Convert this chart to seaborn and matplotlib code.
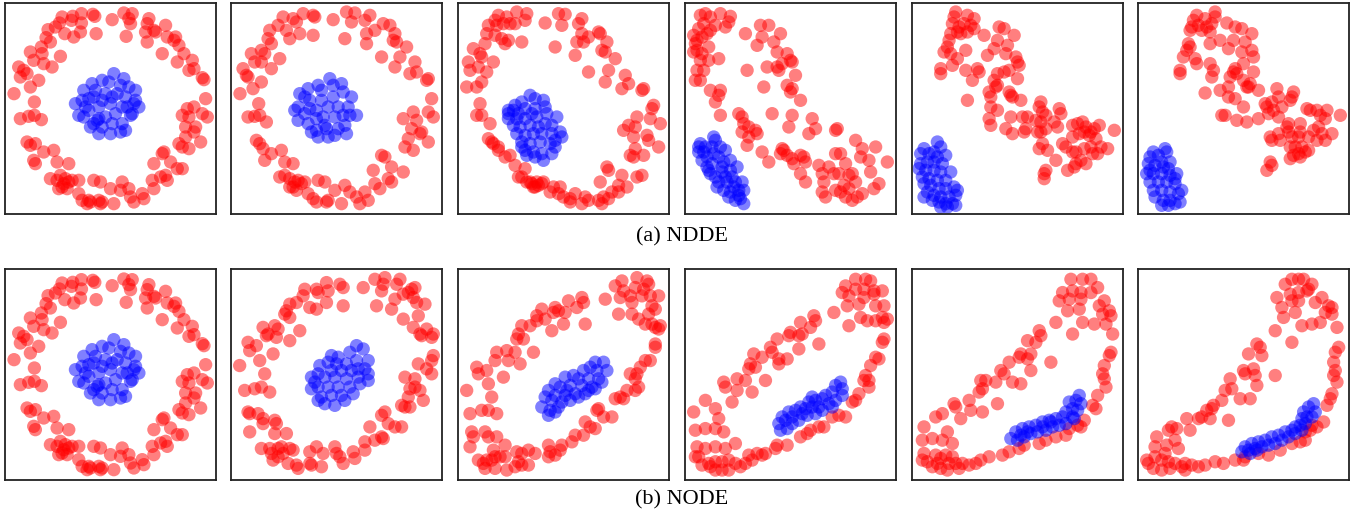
import numpy as np
import pandas as pd
import matplotlib
matplotlib.use("Agg")
import matplotlib.pyplot as plt
import seaborn as sns

P1_RED = [(180,50),(212,48),(238,40),(272,42),(278,48),(208,60),(238,68),(172,68),(160,80),(138,88),(132,112),
          (145,125),(188,100),(215,110),(235,95),(282,100),(330,58),(118,140),(85,155),(95,180),(120,160),(125,190),
          (175,168),(150,200),(50,200),(65,210),(75,220),(55,230),(110,240),(85,260),(36,280),(97,305),(55,355),
          (80,348),(97,345),(118,358),(75,425),(85,435),(100,430),(125,455),(155,450),(95,480),(100,490),(165,485),
          (200,490),(145,535),(175,525),(190,535),(210,540),(230,540),(180,560),(195,565),(230,580),(240,600),
          (260,600),(255,610),(290,600),(300,605),(275,540),(295,545),(325,565),(335,610),(360,545),(380,565),
          (355,570),(385,590),(395,605),(420,580),(425,595),(450,540),(455,565),(475,530),(490,525),(495,540),
          (485,455),(480,460),(455,490),(505,485),(525,505),(540,505),(530,430),(540,440),(560,445),(550,410),
          (575,395),(580,380),(595,425),(550,380),(540,345),(560,350),(575,320),(600,340),(615,350),(610,295),
          (555,325),(600,232),(605,238),(560,210),(575,205),(570,180),(545,160),(525,185),(530,135),(520,110),
          (515,120),(495,110),(480,160),(490,75),(460,95),(455,90),(430,95),(435,125),(440,55),(435,70),(380,55),
          (365,38),(390,40),(385,70),(372,108),(165,540),(200,545),(185,550),(170,565),(265,605),(295,610)]
P1_BLUE = [(335,220),(365,235),(300,240),(270,250),(245,270),(380,260),(400,270),(240,300),(275,290),(310,280),
           (345,280),(370,290),(395,310),(410,320),(230,345),(260,330),(290,320),(325,310),(360,320),(390,340),
           (275,370),(300,380),(330,370),(360,370),(385,345),(290,400),(325,400),(355,395),(265,380),(310,350),
           (340,340),(250,320),(220,310),(300,300),(355,255),(280,270),(320,245),(400,300),(370,390),(285,360),
           (245,350),(330,290),(290,355),(375,320),(260,295)]

P2_RED = [(165,50),(195,55),(225,40),(255,45),(260,50),(205,65),(215,100),(175,90),(150,75),(125,90),(120,115),
          (130,130),(185,115),(255,105),(315,58),(350,115),(355,35),(380,38),(370,65),(425,45),(410,60),(415,100),
          (440,90),(465,70),(485,75),(415,130),(500,100),(495,120),(535,140),(505,125),(460,170),(515,170),
          (560,185),(500,200),(545,220),(565,215),(600,235),(595,240),(610,295),(555,335),(525,355),(565,360),
          (600,335),(615,350),(550,385),(580,395),(575,400),(600,425),(540,415),(530,440),(555,450),(460,465),
          (470,470),(435,510),(490,500),(525,515),(480,535),(490,545),(440,550),(455,565),(410,575),(420,600),
          (395,610),(385,590),(350,555),(365,575),(340,610),(320,570),(300,600),(295,605),(270,540),(290,545),
          (265,605),(240,580),(255,595),(210,540),(230,545),(195,560),(185,535),(155,530),(170,525),(195,490),
          (170,485),(110,480),(130,460),(160,450),(85,420),(95,430),(105,445),(60,350),(80,348),(95,345),
          (115,365),(92,310),(36,280),(75,265),(100,245),(45,205),(55,225),(60,230),(130,205),(100,185),(80,185),
          (70,160),(100,150),(155,175),(110,160),(200,545),(185,560),(205,570),(220,550)]
P2_BLUE = [(305,235),(340,250),(270,255),(240,265),(215,280),(370,290),(345,275),(210,320),(245,300),(280,300),
           (315,290),(330,320),(360,320),(385,345),(200,330),(230,340),(265,330),(300,320),(210,360),(240,370),
           (265,390),(295,385),(330,385),(350,375),(270,410),(300,410),(320,405),(250,395),(285,350),(320,350),
           (345,345),(365,345),(230,290),(280,270),(315,255),(245,325),(290,375),(355,400),(265,355)]

P3_RED = [(130,45),(155,50),(185,35),(215,40),(210,60),(180,70),(165,70),(145,70),(120,60),(100,75),(125,75),
          (95,100),(90,130),(120,105),(140,115),(160,120),(200,125),(150,130),(55,145),(75,160),(80,170),(40,185),
          (45,210),(70,200),(95,215),(115,185),(35,260),(65,260),(80,245),(75,310),(65,345),(80,345),(105,370),
          (270,68),(300,140),(320,75),(330,42),(310,40),(380,55),(370,70),(380,100),(400,110),(430,95),(435,100),
          (365,125),(385,125),(360,165),(455,125),(440,150),(450,155),(480,175),(400,215),(460,210),(450,245),
          (510,225),(520,250),(500,265),(565,265),(560,270),(595,315),(590,325),(545,350),(585,355),(615,370),
          (520,375),(505,390),(540,380),(535,410),(575,405),(580,420),(610,440),(540,445),(525,465),(535,470),
          (565,465),(455,500),(460,510),(500,525),(545,530),(560,525),(435,545),(490,555),(515,560),(470,575),
          (490,575),(445,590),(460,595),(440,610),(430,600),(390,590),(400,600),(380,610),(360,580),(345,595),
          (345,605),(325,590),(310,580),(295,560),(315,560),(285,575),(260,550),(250,555),(240,560),(225,545),
          (215,545),(200,530),(190,530),(180,495),(165,465),(150,470),(130,450),(130,440),(115,430),(100,415),
          (110,425),(210,505),(235,560),(265,545),(230,550),(245,545)]
P3_BLUE = [(225,285),(240,295),(265,300),(200,305),(180,315),(160,330),(175,330),(210,325),(240,325),(270,320),
           (275,340),(305,350),(160,355),(185,355),(210,355),(245,350),(175,375),(195,380),(225,375),(250,380),
           (270,370),(290,375),(315,395),(320,410),(185,400),(210,405),(235,400),(260,400),(290,400),(200,425),
           (225,430),(255,425),(285,430),(300,420),(210,450),(235,455),(260,460),(290,460),(265,480),(240,470),
           (215,465),(200,440),(300,440),(160,340),(190,340),(230,340)]

P4_RED = [(55,45),(70,40),(85,50),(115,40),(145,48),(140,65),(130,80),(100,75),(85,90),(65,70),(50,85),(35,105),
          (45,120),(40,130),(60,110),(75,100),(45,150),(35,155),(60,160),(55,180),(80,140),(110,175),(80,180),
          (45,210),(65,210),(40,240),(55,240),(235,75),(260,75),(190,100),(240,110),(295,100),(225,135),(275,125),
          (285,155),(315,160),(325,180),(330,185),(300,190),(290,210),(285,200),(255,200),(195,210),(340,225),
          (245,260),(315,255),(330,265),(325,275),(355,300),(85,270),(115,270),(110,285),(100,305),(115,345),
          (170,340),(180,350),(185,370),(200,380),(180,395),(220,390),(225,400),(200,410),(195,435),(240,455),
          (260,485),(270,340),(320,380),(330,345),(390,355),(400,385),(380,400),(465,385),(460,390),(300,445),
          (305,450),(295,460),(315,465),(330,475),(335,490),(355,465),(365,470),(370,485),(355,520),(370,545),
          (410,495),(440,500),(460,460),(475,460),(455,520),(470,520),(490,490),(500,525),(510,520),(520,420),
          (540,445),(535,470),(560,480),(580,440),(565,515),(520,545),(425,545),(460,570),(420,575),(430,590),
          (475,575),(490,590),(510,600),(525,590),(540,580),(590,550),(575,565),(615,485),(500,565),(485,555),
          (420,520)]
P4_BLUE = [(95,410),(100,420),(115,440),(130,450),(145,480),(165,500),(55,430),(50,440),(65,455),(50,455),(75,470),
           (95,460),(110,470),(125,485),(60,480),(75,500),(90,490),(120,515),(145,510),(85,520),(100,530),(110,545),
           (135,545),(150,530),(160,545),(180,545),(105,560),(125,570),(145,575),(170,570),(185,570),(140,590),
           (160,600),(175,595),(185,610),(70,440),(90,440),(80,510),(120,500),(130,530),(155,560),(170,585)]

P5_RED = [(140,35),(135,50),(175,45),(195,55),(130,70),(150,80),(165,70),(185,75),(195,85),(145,95),(125,100),
          (155,100),(175,95),(120,120),(115,140),(105,155),(125,160),(170,150),(145,175),(130,195),(95,205),(95,220),
          (170,210),(205,205),(210,215),(190,240),(175,300),(225,105),(270,80),(285,85),(265,120),(295,135),
          (315,105),(255,145),(235,165),(290,160),(320,170),(325,185),(330,195),(300,210),(325,235),(285,215),
          (265,220),(255,240),(265,255),(260,260),(240,275),(245,290),(300,275),(305,285),(310,290),(335,300),
          (245,320),(265,330),(305,350),(240,355),(245,375),(290,385),(310,400),(340,350),(355,350),(350,385),
          (345,395),(395,305),(390,320),(400,335),(380,360),(395,365),(410,345),(450,325),(455,340),(435,365),
          (445,380),(385,395),(395,395),(410,385),(490,375),(505,370),(520,365),(530,380),(545,395),(555,385),
          (570,375),(525,395),(510,400),(540,405),(560,415),(490,410),(460,430),(470,440),(400,430),(415,450),
          (390,445),(490,455),(500,455),(525,445),(545,440),(575,440),(595,445),(615,390),(565,460),(550,460),
          (515,480),(530,490),(500,490),(495,500),(475,510),(440,480),(410,510),(405,520),(405,535)]
P5_BLUE = [(85,425),(95,440),(45,445),(35,460),(60,460),(75,455),(110,465),(85,470),(35,490),(55,485),(75,485),
           (100,490),(30,505),(50,510),(75,510),(95,515),(125,515),(40,530),(60,535),(85,540),(110,540),(135,560),
           (45,550),(65,555),(90,565),(110,565),(145,570),(55,575),(75,585),(95,590),(120,590),(140,585),(70,600),
           (90,605),(110,610),(130,610),(140,615),(95,620),(115,620),(45,590)]

P6_RED = [(185,45),(175,60),(240,35),(240,50),(210,55),(190,75),(230,70),(170,80),(165,90),(200,90),(225,95),
          (215,80),(160,130),(165,140),(155,150),(145,170),(180,175),(185,190),(135,210),(135,220),(225,130),
          (255,120),(275,68),(300,80),(320,85),(350,100),(295,120),(330,125),(280,145),(320,155),(350,150),
          (355,170),(325,190),(300,205),(295,215),(305,220),(355,215),(225,190),(235,210),(230,230),(285,230),
          (325,240),(345,250),(335,260),(370,270),(340,260),(255,270),(280,260),(210,278),(280,290),(300,295),
          (325,320),(260,345),(270,345),(305,360),(335,365),(370,355),(390,310),(395,320),(425,265),(475,275),
          (430,290),(470,290),(410,305),(415,330),(440,320),(465,300),(400,340),(430,350),(460,370),(495,370),
          (515,325),(525,330),(545,330),(555,345),(570,355),(575,330),(615,345),(535,390),(550,380),(560,400),
          (590,400),(570,420),(545,420),(520,410),(495,395),(455,380),(460,395),(470,410),(490,410),(405,410),
          (410,420),(430,400),(435,420),(465,440),(480,440),(500,440),(510,455),(520,450),(490,460),(475,465),
          (465,475),(495,470),(405,485),(410,495),(395,510)]
P6_BLUE = [(90,445),(95,455),(55,455),(45,470),(70,465),(105,485),(80,485),(40,490),(60,495),(100,505),(125,520),
           (35,520),(55,520),(80,520),(105,525),(45,545),(70,545),(95,545),(120,550),(140,570),(55,570),(80,570),
           (105,575),(130,580),(60,590),(85,600),(105,600),(135,605),(80,615),(100,615),(120,610),(45,510),(85,500),
           (120,535)]

P8_RED = [(185,120),(205,115),(225,95),(230,75),(245,130),(265,75),(270,85),(295,55),(300,80),(295,115),(335,60),
          (345,70),(345,125),(265,135),(175,140),(170,150),(185,160),(140,185),(150,195),(105,190),(120,210),
          (115,215),(145,220),(215,200),(185,230),(135,270),(60,235),(65,260),(85,245),(95,290),(35,305),(110,330),
          (50,380),(80,375),(100,370),(125,385),(60,445),(65,450),(90,450),(105,465),(105,480),(140,470),(145,480),
          (65,505),(140,510),(175,510),(100,555),(125,555),(130,570),(150,555),(160,550),(150,580),(185,555),
          (195,560),(180,600),(205,605),(210,615),(245,565),(265,550),(245,600),(250,605),(280,610),(285,570),
          (320,550),(325,570),(335,580),(345,600),(375,565),(380,585),(410,560),(410,535),(440,530),(460,520),
          (465,525),(425,490),(480,480),(500,490),(520,490),(460,455),(470,445),(520,425),(530,430),(545,430),
          (540,400),(545,375),(560,370),(575,380),(585,410),(530,340),(560,345),(570,300),(595,315),(610,330),
          (615,275),(610,290),(575,210),(580,215),(615,210),(610,220),(595,195),(555,190),(525,165),(570,155),
          (490,135),(500,105),(445,125),(590,120),(565,115),(555,100),(540,85),(525,90),(560,70),(550,75),(515,45),
          (505,60),(460,80),(465,60),(470,40),(440,45),(405,70),(135,590),(165,570)]
P8_BLUE = [(385,245),(405,255),(365,265),(330,280),(300,295),(275,305),(325,300),(355,300),(385,290),(420,290),
           (410,315),(370,320),(340,320),(310,320),(270,330),(250,340),(290,340),(320,340),(355,345),(390,340),
           (420,330),(420,350),(395,360),(365,370),(330,370),(300,370),(270,370),(250,375),(280,400),(310,395),
           (340,395),(375,390),(290,420),(320,425),(350,410),(270,410),(390,315),(310,275),(260,355)]

P9_RED = [(545,40),(575,50),(500,50),(480,65),(540,70),(565,75),(580,60),(505,80),(495,100),(525,95),(560,95),
          (585,95),(610,95),(530,115),(450,105),(380,100),(385,115),(365,130),(340,110),(300,130),(295,145),
          (310,140),(330,145),(260,135),(245,155),(245,170),(270,165),(225,185),(200,185),(190,210),(185,225),
          (205,225),(290,200),(325,180),(390,180),(235,265),(195,300),(180,265),(155,260),(160,290),(125,265),
          (120,290),(65,310),(70,330),(95,320),(145,340),(100,360),(35,380),(110,400),(80,440),(100,440),(45,450),
          (125,450),(490,150),(530,150),(550,165),(580,150),(590,125),(600,135),(570,180),(590,180),(600,190),
          (615,185),(610,195),(600,240),(600,250),(585,290),(570,290),(555,310),(545,330),(525,330),(540,345),
          (550,370),(540,380),(515,380),(495,400),(505,405),(480,405),(430,435),(425,440),(445,460),(470,460),
          (390,475),(405,490),(420,495),(385,515),(360,515),(350,535),(320,545),(315,560),(300,575),(280,545),
          (280,580),(285,565),(240,570),(220,560),(200,570),(185,565),(190,595),(180,610),(200,605),(220,605),
          (150,545),(150,580),(155,620),(135,580),(120,580),(110,590),(95,590),(85,600),(70,590),(90,615),
          (120,615),(115,560),(125,520),(100,520),(90,505),(50,505),(55,520),(45,550)]
P9_BLUE = [(420,295),(445,295),(405,310),(425,320),(455,320),(385,320),(355,335),(330,340),(370,345),(400,345),
           (430,345),(440,355),(300,360),(315,370),(345,365),(380,365),(410,370),(420,375),(280,380),(300,395),
           (330,395),(360,390),(390,390),(270,400),(290,410),(320,415),(345,410),(260,430),(285,440),(310,430),
           (280,455),(300,445),(370,400),(335,380),(400,380)]

P10_RED = [(520,45),(550,45),(565,50),(490,65),(480,85),(500,95),(520,75),(545,75),(575,80),(600,80),(545,100),
           (530,120),(495,125),(580,125),(605,125),(575,90),(455,145),(395,155),(400,170),(385,190),(355,175),
           (360,210),(350,215),(325,205),(320,215),(285,225),(350,255),(410,240),(500,185),(535,160),(555,170),
           (580,170),(600,160),(615,165),(605,175),(605,225),(600,235),(580,280),(590,285),(565,305),(550,335),
           (545,350),(560,350),(560,370),(530,390),(520,410),(510,415),(450,460),(470,455),(490,460),(425,490),
           (410,490),(385,500),(375,510),(355,520),(315,545),(285,545),(280,555),(250,570),(240,575),(225,570),
           (200,575),(210,590),(190,600),(175,610),(160,600),(140,590),(140,620),(120,620),(100,620),(85,610),
           (80,600),(60,605),(50,580),(40,580),(45,550),(70,555),(100,550),(130,555),(160,540),(120,595),(100,595),
           (40,500),(70,495),(100,495),(125,505),(110,465),(100,435),(70,410),(35,445),(150,415),(210,385),
           (165,380),(130,370),(125,355),(165,345),(190,350),(250,350),(200,315),(220,310),(205,300),(215,270),
           (240,280),(265,250),(270,265),(290,285),(315,285),(290,300)]
P10_BLUE = [(475,355),(480,375),(460,365),(450,385),(480,395),(460,410),(430,395),(420,405),(400,410),(380,415),
            (440,420),(410,430),(390,430),(355,430),(340,440),(320,445),(300,460),(290,480),(295,500),(315,495),
            (330,480),(350,470),(375,455),(400,450),(420,440),(450,430),(330,460),(360,450),(310,470),(390,400),
            (370,435)]

P11_RED = [(485,45),(520,45),(545,45),(565,70),(460,85),(450,110),(490,80),(515,85),(545,85),(480,105),(515,105),
           (475,140),(510,135),(585,110),(570,125),(600,140),(605,155),(580,150),(590,180),(555,180),(520,175),
           (440,175),(490,210),(610,210),(605,265),(600,275),(585,305),(580,330),(585,345),(590,370),(565,395),
           (550,425),(560,435),(525,470),(505,485),(515,490),(480,495),(470,515),(440,520),(410,530),(390,540),
           (345,545),(330,555),(300,565),(280,575),(240,580),(215,590),(200,600),(180,605),(160,600),(140,600),
           (130,580),(110,575),(95,585),(80,575),(55,595),(40,590),(45,570),(70,610),(95,615),(115,620),(150,615),
           (120,600),(85,600),(40,530),(70,525),(100,530),(130,540),(45,490),(80,460),(100,450),(115,505),
           (155,465),(135,420),(140,430),(180,410),(185,440),(220,445),(265,420),(210,385),(220,375),(215,350),
           (230,350),(260,355),(275,320),(285,330),(300,295),(310,355),(335,360),(330,280),(335,270),(355,285),
           (365,270),(365,320),(355,230),(380,235),(390,200),(395,215),(425,295)]
P11_BLUE = [(510,395),(500,410),(515,420),(480,415),(490,435),(505,440),(470,445),(460,460),(490,460),(440,465),
            (420,470),(400,475),(380,485),(360,490),(340,495),(320,505),(305,525),(325,530),(345,520),(365,510),
            (385,505),(410,500),(430,490),(450,485),(470,480),(495,465),(335,515),(355,505),(400,490),(425,475)]

P12_RED = [(470,45),(490,45),(505,45),(530,60),(450,60),(425,100),(465,90),(490,85),(515,80),(520,75),(470,110),
           (490,110),(440,130),(480,145),(445,160),(540,115),(560,100),(580,125),(590,130),(570,145),(590,150),
           (555,175),(530,180),(500,185),(605,190),(420,200),(470,235),(610,250),(600,265),(595,295),(600,320),
           (595,335),(605,355),(590,390),(585,405),(575,425),(565,475),(545,490),(525,500),(510,530),(495,535),
           (470,540),(435,560),(400,575),(370,570),(330,580),(325,590),(300,590),(265,600),(240,595),(210,605),
           (190,610),(170,605),(150,600),(140,610),(120,600),(100,595),(80,590),(60,580),(40,600),(35,590),
           (55,615),(80,620),(105,615),(150,620),(90,570),(60,550),(95,545),(120,530),(130,555),(100,500),
           (110,490),(125,495),(65,520),(155,465),(165,500),(190,465),(200,460),(225,465),(215,440),(235,425),
           (230,435),(260,410),(280,470),(270,380),(290,375),(285,345),(315,405),(345,405),(325,320),(330,330),
           (355,315),(360,335),(365,365),(340,270),(365,240),(375,250),(380,275),(420,335),(530,485),(510,505)]
P12_BLUE = [(535,420),(520,430),(540,445),(505,445),(515,460),(530,460),(500,465),(495,485),(510,480),(480,490),
            (470,500),(450,505),(430,515),(410,520),(390,530),(370,535),(350,540),(330,550),(320,565),(340,560),
            (360,555),(380,550),(400,545),(420,540),(440,530),(460,520),(480,510),(500,500),(345,570),(365,560)]

PANELS = [(P1_RED, P1_BLUE), (P2_RED, P2_BLUE), (P3_RED, P3_BLUE), (P4_RED, P4_BLUE), (P5_RED, P5_BLUE),
          (P6_RED, P6_BLUE), (P1_RED, P1_BLUE), (P8_RED, P8_BLUE), (P9_RED, P9_BLUE), (P10_RED, P10_BLUE),
          (P11_RED, P11_BLUE), (P12_RED, P12_BLUE)]
CAPTIONS = ["(a) NDDE", "(b) NODE"]

# ---------------- layout ----------------
W, H = 1364, 521
sns.set_theme(style="white")
plt.rcParams['font.family'] = ['Liberation Serif', 'DejaVu Serif']

fig = plt.figure(figsize=(W / 100, H / 100), dpi=100)
lefts = [5, 231, 458, 685, 912, 1138]
tops = [3, 269]
size = 211
frames = [(8, 641)] * 7 + [(14, 650)] * 5

for i, (red, blue) in enumerate(PANELS):
    row, col = divmod(i, 6)
    l, t = lefts[col], tops[row]
    ax = fig.add_axes([l / W, 1 - (t + size) / H, size / W, size / H])
    r = np.array(red, dtype=float)
    b = np.array(blue, dtype=float)
    df = pd.DataFrame({"x": np.concatenate([r[:, 0], b[:, 0]]),
                       "y": np.concatenate([r[:, 1], b[:, 1]]),
                       "cls": ["outer"] * len(r) + ["inner"] * len(b)})
    sns.scatterplot(data=df, x="x", y="y", hue="cls", palette={"outer": "#ff0000", "inner": "#0000ff"},
                    s=92, alpha=0.5, linewidth=0, legend=False, ax=ax)
    ax.set_xlim(9, 641)
    y0, y1 = frames[i]
    ax.set_ylim(y1, y0)
    ax.set_xticks([]); ax.set_yticks([])
    ax.set_xlabel(""); ax.set_ylabel("")
    for sp in ax.spines.values():
        sp.set_visible(True)
        sp.set_color("#222222")
        sp.set_linewidth(1.3)

fig.text(682 / W, 1 - 237 / H, CAPTIONS[0], ha="center", va="center", fontsize=16, color="black")
fig.text(682 / W, 1 - 500 / H, CAPTIONS[1], ha="center", va="center", fontsize=16, color="black")

fig.savefig("out.png", dpi=100)
